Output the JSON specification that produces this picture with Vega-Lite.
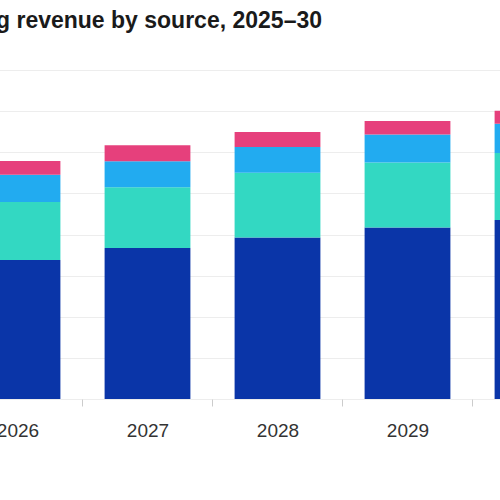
{
  "$schema": "https://vega.github.io/schema/vega-lite/v6.json",
  "autosize": {"type": "none"},
  "width": 493,
  "height": 329,
  "padding": {"top": 70, "left": 0, "right": 7, "bottom": 101},
  "background": "white",
  "config": {
    "view": {"stroke": "transparent"},
    "font": "Liberation Sans"
  },
  "title": {
    "text": "g revenue by source, 2025–30",
    "anchor": "start",
    "frame": "group",
    "baseline": "alphabetic",
    "offset": 19,
    "dx": -4,
    "fontSize": 23,
    "fontWeight": "bold",
    "color": "#1a1a1a"
  },
  "data": {
    "values": [
      {"year": "2026", "source": "Source 1", "order": 1, "value": 33.8},
      {"year": "2026", "source": "Source 2", "order": 2, "value": 14.1},
      {"year": "2026", "source": "Source 3", "order": 3, "value": 6.6},
      {"year": "2026", "source": "Source 4", "order": 4, "value": 3.4},
      {"year": "2027", "source": "Source 1", "order": 1, "value": 36.7},
      {"year": "2027", "source": "Source 2", "order": 2, "value": 14.8},
      {"year": "2027", "source": "Source 3", "order": 3, "value": 6.3},
      {"year": "2027", "source": "Source 4", "order": 4, "value": 3.9},
      {"year": "2028", "source": "Source 1", "order": 1, "value": 39.3},
      {"year": "2028", "source": "Source 2", "order": 2, "value": 15.7},
      {"year": "2028", "source": "Source 3", "order": 3, "value": 6.3},
      {"year": "2028", "source": "Source 4", "order": 4, "value": 3.6},
      {"year": "2029", "source": "Source 1", "order": 1, "value": 41.7},
      {"year": "2029", "source": "Source 2", "order": 2, "value": 15.8},
      {"year": "2029", "source": "Source 3", "order": 3, "value": 6.8},
      {"year": "2029", "source": "Source 4", "order": 4, "value": 3.3},
      {"year": "2030", "source": "Source 1", "order": 1, "value": 43.5},
      {"year": "2030", "source": "Source 2", "order": 2, "value": 16.3},
      {"year": "2030", "source": "Source 3", "order": 3, "value": 7.1},
      {"year": "2030", "source": "Source 4", "order": 4, "value": 3.2}
    ]
  },
  "mark": {"type": "bar"},
  "encoding": {
    "x": {
      "field": "year",
      "type": "ordinal",
      "title": null,
      "scale": {"range": [-47.5, 602.5], "paddingInner": 0.34, "paddingOuter": 0.17},
      "axis": {
        "labelAngle": 0,
        "labelFontSize": 19,
        "labelColor": "#333333",
        "labelPadding": 15,
        "bandPosition": 1,
        "tickOffset": 22,
        "labelOffset": -22,
        "tickColor": "#cccccc",
        "tickSize": 7,
        "domain": false
      }
    },
    "y": {
      "field": "value",
      "type": "quantitative",
      "stack": "zero",
      "title": null,
      "scale": {"domain": [0, 80], "nice": false},
      "axis": {
        "values": [0, 10, 20, 30, 40, 50, 60, 70, 80],
        "labels": false,
        "ticks": false,
        "domain": false,
        "grid": true,
        "gridColor": "#ededed"
      }
    },
    "color": {
      "field": "source",
      "type": "nominal",
      "legend": null,
      "scale": {
        "domain": ["Source 1", "Source 2", "Source 3", "Source 4"],
        "range": ["#0a35a8", "#33d8c2", "#22abf0", "#e6407c"]
      }
    },
    "order": {"field": "order", "type": "quantitative"}
  }
}
